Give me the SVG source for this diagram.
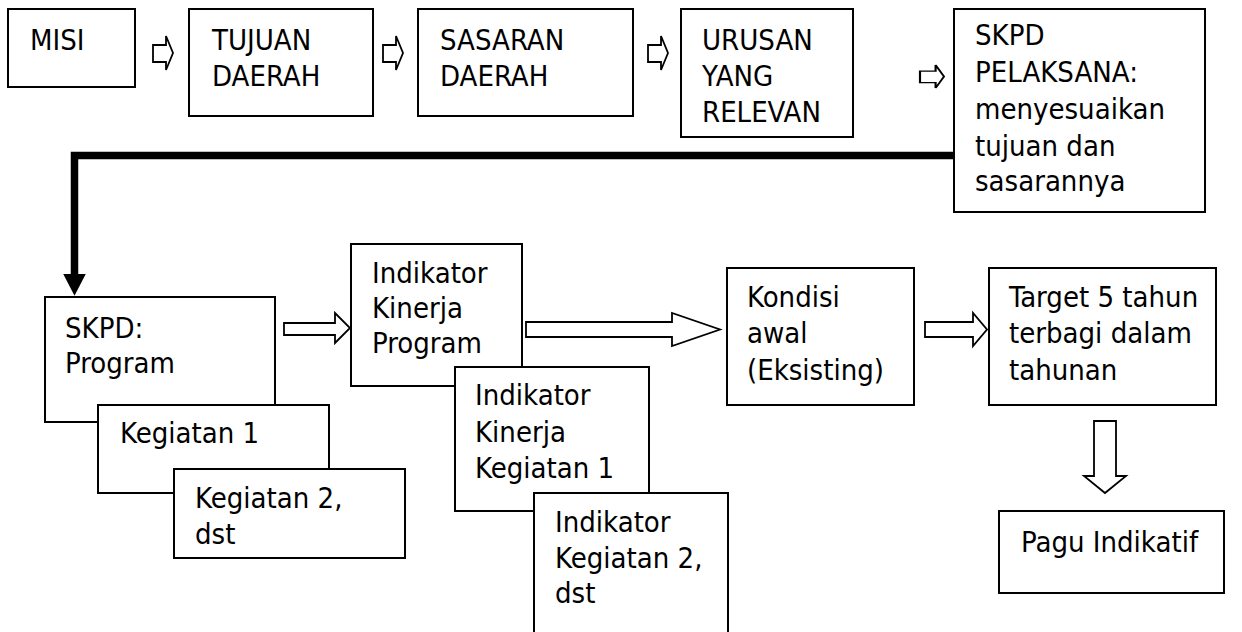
<svg xmlns="http://www.w3.org/2000/svg" width="1242" height="632" viewBox="0 0 1242 632">
<style>
.box{fill:#fff;stroke:#000;stroke-width:2}
.t{font-family:"DejaVu Sans Condensed","DejaVu Sans","Liberation Sans",sans-serif;font-stretch:condensed;font-size:29px;fill:#000}
.ba{fill:#fff;stroke:#000;stroke-width:1.8;stroke-linejoin:miter}
</style>
<defs>
<marker id="thick" markerWidth="4" markerHeight="4" refX="0" refY="2" orient="auto" markerUnits="strokeWidth">
<path d="M0,0.5 L2.9,2 L0,3.5 Z" fill="#000"/>
</marker>
<path id="sm" d="M0,9 H13 V0 L20,17 L13,34 V26 H0 Z"/>
</defs>
<rect width="1242" height="632" fill="#fff"/>
<g id="connectors">
<polyline points="954,155.5 74.5,155.5 74.5,274" fill="none" stroke="#000" stroke-width="7.5" marker-end="url(#thick)"/>
<use href="#sm" class="ba" x="153" y="36"/>
<use href="#sm" class="ba" x="383" y="36"/>
<use href="#sm" class="ba" x="648" y="36"/>
<use href="#sm" class="ba" transform="translate(920,65) scale(1.2,0.68)"/>
<path class="ba" d="M284,323 H335 V313 L350,328 L335,343 V335 H284 Z"/>
<path class="ba" d="M526,322 H672 V313 L720,329.5 L672,346 V337 H526 Z"/>
<path class="ba" d="M925,322 H973 V313 L987,329.5 L973,346 V337 H925 Z"/>
<path class="ba" d="M1094,421 H1116 V476 H1126 L1105,493 L1084,476 H1094 Z"/>
</g>
<g id="misi"><rect class="box" x="8" y="9" width="127" height="78"/><text class="t" x="30" y="50">MISI</text></g>
<g id="tujuan"><rect class="box" x="189" y="9" width="184" height="107"/><text class="t" x="212" y="50">TUJUAN</text><text class="t" x="212" y="86">DAERAH</text></g>
<g id="sasaran"><rect class="box" x="418" y="9" width="215" height="107"/><text class="t" x="440" y="50">SASARAN</text><text class="t" x="440" y="86">DAERAH</text></g>
<g id="urusan"><rect class="box" x="681" y="9" width="172" height="128"/><text class="t" x="702" y="50">URUSAN</text><text class="t" x="702" y="86">YANG</text><text class="t" x="702" y="122">RELEVAN</text></g>
<g id="skpd-pelaksana"><rect class="box" x="954" y="9" width="251" height="203"/><text class="t" x="975" y="45">SKPD</text><text class="t" x="975" y="82">PELAKSANA:</text><text class="t" x="975" y="119">menyesuaikan</text><text class="t" x="975" y="156">tujuan dan</text><text class="t" x="975" y="191">sasarannya</text></g>
<g id="skpd-program"><rect class="box" x="45" y="297" width="230" height="125"/><text class="t" x="65" y="338">SKPD:</text><text class="t" x="65" y="373">Program</text></g>
<g id="kegiatan1"><rect class="box" x="98" y="405" width="231" height="88"/><text class="t" x="120" y="443">Kegiatan 1</text></g>
<g id="kegiatan2"><rect class="box" x="174" y="469" width="231" height="89"/><text class="t" x="195" y="508">Kegiatan 2,</text><text class="t" x="195" y="544">dst</text></g>
<g id="ik-program"><rect class="box" x="351" y="244" width="171" height="142"/><text class="t" x="372" y="283">Indikator</text><text class="t" x="372" y="318">Kinerja</text><text class="t" x="372" y="353">Program</text></g>
<g id="ik-kegiatan1"><rect class="box" x="455" y="367" width="194" height="144"/><text class="t" x="475" y="405">Indikator</text><text class="t" x="475" y="442">Kinerja</text><text class="t" x="475" y="478">Kegiatan 1</text></g>
<g id="ik-kegiatan2"><rect class="box" x="534" y="493" width="194" height="140"/><text class="t" x="555" y="532">Indikator</text><text class="t" x="555" y="568">Kegiatan 2,</text><text class="t" x="555" y="603">dst</text></g>
<g id="kondisi"><rect class="box" x="727" y="268" width="187" height="137"/><text class="t" x="747" y="307">Kondisi</text><text class="t" x="747" y="343">awal</text><text class="t" x="747" y="380">(Eksisting)</text></g>
<g id="target"><rect class="box" x="989" y="268" width="227" height="137"/><text class="t" x="1009" y="307">Target 5 tahun</text><text class="t" x="1009" y="343">terbagi dalam</text><text class="t" x="1009" y="380">tahunan</text></g>
<g id="pagu"><rect class="box" x="999" y="511" width="225" height="82"/><text class="t" x="1021" y="552">Pagu Indikatif</text></g>
</svg>
